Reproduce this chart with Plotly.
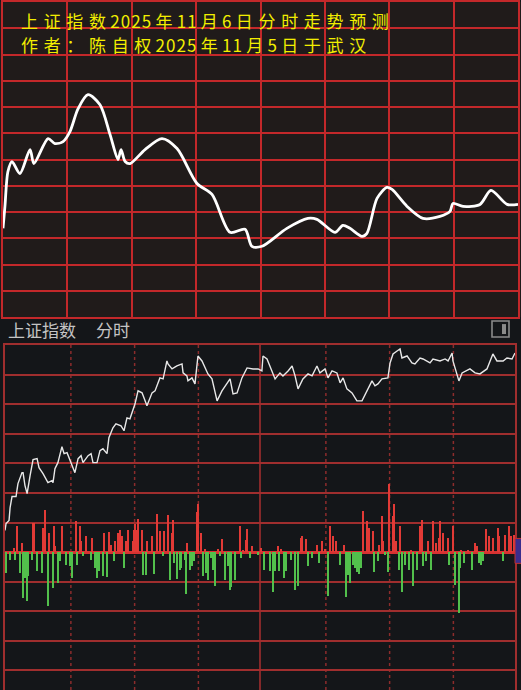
import plotly.graph_objects as go

W, H = 521, 690

TITLE_1 = "上证指数2025年11月6日分时走势预测"
TITLE_2 = "作者：陈自权2025年11月5日于武汉"
PANEL_NAME = "上证指数"
PANEL_MODE = "分时"

# ---- top panel: forecast curve (minute of session, index level) ----
FC_MINUTE = [0, 0.9, 2.3, 4.2, 7.9, 12.6, 14.4, 21.0, 24.2, 28.0, 31.2, 35.0, 39.6, 45.2, 49.9,
             53.6, 55.0, 56.9, 59.2, 66.2, 74.1, 81.1, 90.4, 97.4, 105.8, 112.8, 116.0, 120.7,
             132.3, 142.1, 146.3, 154.7, 158.4, 161.7, 167.3, 169.6, 174.3, 178.9, 181.3, 188.3,
             195.7, 203.6, 208.3, 209.7, 214.4, 222.3, 227.4, 234.9, 240]
FC_LEVEL = [3977.8, 3982.2, 3989.2, 3991.2, 3988.8, 3993.6, 3990.8, 3995.8, 3994.8, 3995.2,
            3997.2, 4001.8, 4004.6, 4002.6, 3996.6, 3991.6, 3993.6, 3991.2, 3990.8, 3993.6,
            3995.8, 3993.8, 3986.8, 3984.6, 3977.0, 3977.6, 3974.2, 3974.2, 3977.8, 3979.8,
            3979.6, 3977.0, 3978.4, 3977.8, 3976.2, 3976.8, 3983.8, 3986.0, 3985.6, 3982.2,
            3979.8, 3980.2, 3981.2, 3982.8, 3982.2, 3982.6, 3985.4, 3982.6, 3982.6]

# ---- bottom panel: intraday price line ----
RT_MINUTE = [0, 0.5, 1.9, 2.4, 3.3, 5.2, 5.6, 6.1, 8.0, 8.5,
             9.4, 10.4, 11.8, 12.7, 13.2, 15.1, 16.0, 17.9, 20.2, 22.1,
             22.6, 23.5, 24.9, 26.8, 27.8, 29.2, 30.6, 32.9, 34.4, 35.8,
             36.7, 39.1, 40.5, 41.4, 43.3, 44.7, 46.1, 48.0, 48.9, 50.8,
             52.2, 54.6, 56.0, 57.4, 58.8, 60.2, 61.2, 62.6, 64.5, 66.8,
             69.2, 70.6, 72.9, 74.4, 76.2, 76.7, 78.6, 80.9, 83.3, 83.8,
             85.6, 86.1, 88.0, 89.4, 90.8, 92.7, 94.1, 95.5, 97.4, 99.8,
             102.1, 104.5, 105.9, 107.3, 109.2, 111.5, 113.9, 116.7, 119.1, 120.9,
             121.4, 123.3, 125.6, 127.1, 129.4, 130.8, 133.2, 135.1, 136.5, 137.9,
             140.2, 142.6, 144.5, 146.8, 148.2, 150.6, 152.0, 153.9, 156.2, 157.7,
             159.1, 160.9, 163.3, 165.6, 168.0, 170.4, 172.7, 174.1, 175.5, 177.4,
             180.2, 181.2, 182.6, 184.5, 185.9, 186.8, 189.2, 191.5, 192.9, 195.3,
             196.7, 200.0, 201.4, 204.7, 207.1, 208.5, 210.4, 210.8, 212.7, 213.6,
             215.1, 217.4, 218.8, 221.2, 223.5, 226.8, 229.6, 231.5, 234.4, 236.2,
             238.6, 240]
RT_PRICE = [3973.8, 3975.2, 3975.8, 3978.4, 3980.6, 3980.6, 3981.8, 3983.2, 3985.4, 3985.4,
            3982.8, 3981.2, 3984.8, 3987.2, 3988.0, 3988.2, 3986.4, 3985.2, 3983.4, 3983.8,
            3983.4, 3986.2, 3987.4, 3990.6, 3989.2, 3989.4, 3987.8, 3985.4, 3988.2, 3988.8,
            3987.4, 3988.8, 3989.2, 3987.4, 3987.4, 3989.8, 3990.2, 3989.2, 3992.4, 3994.4,
            3995.2, 3994.8, 3993.8, 3996.4, 3996.2, 3997.8, 3999.2, 4001.8, 4001.4, 3998.8,
            4001.4, 4001.8, 4004.4, 4004.2, 4007.8, 4007.2, 4006.2, 4006.8, 4007.2, 4005.4,
            4004.8, 4003.8, 4004.4, 4003.2, 4008.8, 4007.8, 4006.4, 4005.2, 4004.2, 3999.8,
            4001.8, 4003.4, 4004.2, 4001.2, 4001.4, 4004.4, 4006.4, 4006.2, 4006.2, 4005.8,
            4008.8, 4008.2, 4005.8, 4004.2, 4005.4, 4004.8, 4005.8, 4006.8, 4004.8, 4002.2,
            4004.2, 4005.2, 4004.8, 4006.8, 4005.4, 4006.2, 4004.4, 4005.8, 4005.4, 4003.4,
            4004.4, 4002.2, 4001.4, 3999.8, 3999.8, 4001.8, 4003.8, 4002.8, 4003.2, 4004.2,
            4004.4, 4007.4, 4009.2, 4009.8, 4010.2, 4008.4, 4008.8, 4007.4, 4007.2, 4008.4,
            4008.2, 4007.4, 4008.2, 4007.8, 4008.2, 4007.8, 4009.4, 4007.8, 4005.2, 4003.8,
            4005.4, 4005.8, 4006.2, 4005.4, 4005.2, 4006.2, 4009.2, 4007.8, 4007.8, 4008.4,
            4008.2, 4009.4]

# ---- bottom panel: buy / sell bars ----
UP_MINUTE = [4.2, 5.6, 8.0, 13.2, 13.6, 17.9, 18.8, 20.7, 23.1, 23.5,
             26.8, 33.4, 35.3, 35.8, 38.1, 40.9, 46.6, 48.9, 49.9, 51.8,
             53.2, 54.1, 55.1, 56.9, 57.9, 60.2, 60.7, 61.2, 62.1, 62.6,
             64.5, 66.8, 69.2, 71.5, 72.9, 74.8, 76.7, 78.6, 79.3, 85.6,
             90.4, 90.8, 92.2, 94.1, 100.2, 102.1, 110.6, 112.0, 113.4, 113.9,
             116.2, 120.5, 128.5, 129.9, 139.3, 139.8, 141.7, 146.8, 149.2, 150.6,
             152.9, 154.4, 155.8, 159.5, 168.5, 170.4, 171.3, 173.2, 176.0, 177.4,
             177.9, 180.7, 182.6, 183.1, 184.0, 185.9, 191.1, 195.3, 196.2, 199.1,
             201.4, 202.8, 204.2, 204.7, 206.1, 208.5, 210.8, 214.6, 217.9, 221.2,
             222.1, 226.4, 227.8, 229.6, 232.0, 232.5, 235.3, 237.2, 238.1, 239.5]
UP_VALUE = [4, 26, 9, 29, 29, 24, 43, 19, 26, 6,
            26, 31, 26, 11, 16, 14, 19, 20, 7, 11,
            19, 22, 16, 11, 22, 11, 22, 28, 22, 34,
            22, 11, 16, 39, 21, 21, 38, 19, 32, 9,
            41, 49, 19, 3, 3, 13, 26, 2, 12, 23,
            6, 4, 6, 3, 14, 16, 13, 7, 11, 3,
            26, 16, 11, 7, 42, 31, 24, 21, 7, 37,
            11, 69, 37, 49, 11, 26, 2, 26, 32, 11,
            31, 9, 14, 31, 19, 14, 26, 2, 2, 9,
            6, 23, 16, 14, 24, 16, 17, 26, 16, 17]
DOWN_MINUTE = [0.5, 2.4, 4.7, 7.1, 8.5, 9.4, 10.4, 10.8, 12.7, 15.1,
               17.4, 20.2, 22.6, 24.9, 25.9, 28.7, 30.6, 31.5, 33.9, 36.7,
               40.5, 42.4, 43.3, 44.2, 46.1, 48.0, 51.3, 56.0, 64.9, 66.4,
               70.1, 74.4, 77.6, 79.5, 80.9, 82.4, 82.8, 84.7, 85.2, 87.1,
               88.0, 88.9, 93.2, 94.6, 95.5, 96.9, 97.9, 98.8, 101.2, 103.5,
               104.9, 105.9, 106.4, 108.2, 111.1, 115.3, 119.1, 121.9, 124.7, 126.1,
               127.1, 128.9, 131.3, 132.2, 134.6, 136.5, 137.9, 142.6, 144.5, 147.8,
               152.0, 157.7, 160.5, 161.4, 162.4, 163.8, 164.7, 165.6, 166.6, 167.5,
               173.6, 175.5, 178.8, 180.2, 185.4, 186.8, 188.2, 190.1, 192.0, 193.9,
               196.7, 198.1, 200.5, 208.9, 211.8, 213.6, 214.1, 216.0, 219.8, 223.1,
               224.0, 224.9, 234.4]
DOWN_VALUE = [-21, -8, -8, -21, -46, -26, -49, -24, -8, -19,
              -21, -54, -36, -31, -9, -13, -14, -26, -13, -4,
              -8, -16, -26, -19, -24, -25, -9, -16, -23, -23,
              -22, -4, -28, -11, -27, -18, -16, -8, -42, -18,
              -14, -9, -24, -21, -28, -6, -18, -34, -4, -28,
              -14, -38, -35, -28, -6, -6, -3, -18, -19, -40,
              -19, -19, -26, -19, -8, -38, -34, -14, -6, -11,
              -44, -13, -45, -23, -31, -13, -16, -20, -22, -16,
              -20, -9, -3, -20, -18, -40, -13, -18, -34, -18,
              -14, -9, -18, -13, -33, -61, -16, -11, -18, -11,
              -13, -9, -9]

MARK_MINUTES = [31, 61, 91, 151, 181, 211]   # dotted time markers
MID_MINUTE = 120                              # midday divider

assert len(FC_MINUTE) == len(FC_LEVEL)
assert len(RT_MINUTE) == len(RT_PRICE)
assert len(UP_MINUTE) == len(UP_VALUE)
assert len(DOWN_MINUTE) == len(DOWN_VALUE)

TOP_BG = "#201b1a"
BOT_BG = "#141619"
TOP_GRID = "#c3282a"
BOT_GRID = "#a02e2e"
YELLOW = "#f2ee00"


def spaced(s):
    out = s[0]
    for a, b in zip(s, s[1:]):
        if a.isdigit() and b.isdigit():
            gap = "\u200a"
        elif a.isdigit() or b.isdigit():
            gap = "\u2005"
        else:
            gap = "\u2004"
        out += gap + b
    return out


def py(px):
    return 1 - px / H


def pxx(px):
    return px / W


fig = go.Figure()

fig.add_trace(go.Scatter(
    x=FC_MINUTE, y=FC_LEVEL, mode="lines",
    line=dict(color="#ffffff", width=2.8, shape="spline", smoothing=0.8),
    xaxis="x", yaxis="y", hoverinfo="skip"))

fig.add_trace(go.Bar(
    x=UP_MINUTE, y=UP_VALUE, width=0.8, marker=dict(color="#e23a36", line=dict(width=0)),
    xaxis="x2", yaxis="y3", hoverinfo="skip"))
fig.add_trace(go.Bar(
    x=DOWN_MINUTE, y=DOWN_VALUE, width=0.8, marker=dict(color="#52c04c", line=dict(width=0)),
    xaxis="x2", yaxis="y3", hoverinfo="skip"))

fig.add_trace(go.Scatter(
    x=RT_MINUTE, y=RT_PRICE, mode="lines",
    line=dict(color="#e8e8e8", width=1.4),
    xaxis="x2", yaxis="y2", hoverinfo="skip"))

shapes = [
    dict(type="rect", xref="paper", yref="paper", x0=0, x1=1, y0=py(316), y1=1,
         fillcolor=TOP_BG, line=dict(width=0), layer="below"),
    dict(type="line", xref="x2", yref="paper", x0=MID_MINUTE, x1=MID_MINUTE, y0=0, y1=py(344),
         line=dict(color=BOT_GRID, width=1.6), layer="below"),
    # header icon
    dict(type="rect", xref="paper", yref="paper", x0=pxx(492), x1=pxx(509), y0=py(336), y1=py(320),
         line=dict(color="#8a8a8a", width=1.6)),
    dict(type="rect", xref="paper", yref="paper", x0=pxx(502), x1=pxx(506), y0=py(333), y1=py(323),
         fillcolor="#8a8a8a", line=dict(width=0)),
    # side marker
    dict(type="rect", xref="paper", yref="paper", x0=pxx(515), x1=1.01, y0=py(563), y1=py(538),
         fillcolor="#3a2c8c", line=dict(color="#c03030", width=1)),
]
for m in MARK_MINUTES:
    shapes.append(dict(type="line", xref="x2", yref="paper", x0=m, x1=m, y0=0, y1=py(344),
                       line=dict(color="#8c2c2c", width=1.5, dash="dot"), layer="below"))

annotations = [
    dict(text=spaced(TITLE_1), xref="paper", yref="paper",
         x=pxx(19), y=py(18.5), xanchor="left", yanchor="middle",
         showarrow=False, font=dict(family="Noto Sans CJK SC", size=17, color=YELLOW)),
    dict(text=spaced(TITLE_2), xref="paper", yref="paper",
         x=pxx(19), y=py(42.5), xanchor="left", yanchor="middle",
         showarrow=False, font=dict(family="Noto Sans CJK SC", size=17, color=YELLOW)),
    dict(text=PANEL_NAME, xref="paper", yref="paper", x=pxx(6), y=py(328.5),
         xanchor="left", yanchor="middle", showarrow=False,
         font=dict(family="Noto Sans CJK SC", size=17, color="#c4c4c4")),
    dict(text=PANEL_MODE, xref="paper", yref="paper", x=pxx(94), y=py(328.5),
         xanchor="left", yanchor="middle", showarrow=False,
         font=dict(family="Noto Sans CJK SC", size=17, color="#c4c4c4")),
]

top_span = 4023.2 - 3960
bot_step = 29.67 * 0.2

fig.update_layout(
    width=W, height=H,
    margin=dict(l=0, r=0, t=0, b=0),
    paper_bgcolor=BOT_BG, plot_bgcolor="rgba(0,0,0,0)",
    showlegend=False, barmode="overlay", bargap=0,
    shapes=shapes, annotations=annotations,
    xaxis=dict(domain=[pxx(3), pxx(518)], range=[0, 240], anchor="y",
               tick0=0, dtick=30, showgrid=True, gridcolor=TOP_GRID, gridwidth=1.8,
               showticklabels=False, ticks="", zeroline=False,
               showline=True, mirror=True, linecolor=TOP_GRID, linewidth=1.8, fixedrange=True),
    yaxis=dict(domain=[py(316), 1], range=[3960, 4023.2], anchor="x",
               tick0=3960, dtick=top_span / 12, showgrid=True, gridcolor=TOP_GRID, gridwidth=1.8,
               showticklabels=False, ticks="", zeroline=False,
               showline=True, mirror=True, linecolor=TOP_GRID, linewidth=1.8, fixedrange=True),
    xaxis2=dict(domain=[pxx(5), pxx(515)], range=[0, 240], anchor="y2",
                showgrid=False, showticklabels=False, ticks="", zeroline=False,
                showline=True, mirror=True, linecolor=BOT_GRID, linewidth=1.6, fixedrange=True),
    yaxis2=dict(domain=[0, py(344)], range=[4011 - 346 * 0.2, 4011], anchor="x2",
                tick0=4011, dtick=bot_step, showgrid=True, gridcolor=BOT_GRID, gridwidth=1.6,
                showticklabels=False, ticks="", zeroline=False,
                showline=True, mirror=True, linecolor=BOT_GRID, linewidth=1.6, fixedrange=True),
    yaxis3=dict(domain=[0, py(344)], range=[-138, 208], anchor="x2", overlaying="y2",
                showgrid=False, showticklabels=False, ticks="",
                zeroline=True, zerolinecolor="#d63232", zerolinewidth=3, fixedrange=True),
)

fig.write_html("out.html", config={"displayModeBar": False},
               post_script="document.body.style.margin='0';document.body.style.overflow='hidden';")
